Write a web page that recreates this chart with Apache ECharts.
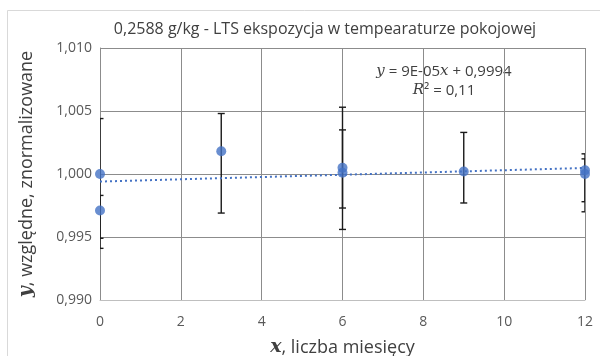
<!DOCTYPE html>
<html>
<head>
<meta charset="utf-8">
<script src="https://cdn.jsdelivr.net/npm/echarts@6/dist/echarts.min.js"></script>
<style>
  html, body { margin: 0; padding: 0; background: #fff; }
  #chart { width: 600px; height: 356px; }
</style>
</head>
<body>
<div id="chart"></div>
<script>
// pomiary: miesiąc, wartość względna, dolny i górny koniec słupka błędu
const months = [0, 0, 3, 6, 6, 9, 12, 12]
const values = [1.0000, 0.9971, 1.0018, 1.0005, 1.0001, 1.0002, 1.0003, 1.0000]
const errLow = [0.9949, 0.9941, 0.9969, 0.9956, 0.9973, 0.9977, 0.9970, 0.9978]
const errHigh = [1.0044, 0.9983, 1.0048, 1.0053, 1.0035, 1.0033, 1.0016, 1.0012]

// linia trendu (końce)
const trendX = [0, 12]
const trendY = [0.9994, 1.00048]

const titleText = '0,2588 g/kg - LTS ekspozycja w tempearaturze pokojowej'
const fontSans = "'Open Sans', 'Noto Sans', sans-serif"
const fontSerif = "'DejaVu Serif', 'Liberation Serif', serif"

const chart = echarts.init(document.getElementById('chart'), null, { renderer: 'canvas' })

const scatterData = months.map((m, i) => [m, values[i]])
const errData = months.map((m, i) => [m, errLow[i], errHigh[i]])

chart.setOption({
  animation: false,
  backgroundColor: '#fff',
  title: {
    text: titleText,
    left: 320,
    top: 16,
    textAlign: 'center',
    textStyle: { fontFamily: fontSans, fontSize: 16, fontWeight: 'normal', color: '#404040' },
  },
  graphic: [
    {
      type: 'rect',
      shape: { x: 7.5, y: 10.5, width: 700, height: 400 },
      style: { fill: 'none', stroke: '#d9d9d9', lineWidth: 1 },
      silent: true,
    },
    {
      type: 'text',
      x: 444,
      y: 81,
      style: {
        text: '{i|y} = 9E-05{i|x} + 0,9994\n{i|R}² = 0,11',
        align: 'center',
        verticalAlign: 'middle',
        fill: '#404040',
        font: '15px ' + fontSans,
        lineHeight: 19,
        rich: {
          i: { fontFamily: fontSerif, fontStyle: 'italic', fontSize: 15, fill: '#404040' },
        },
      },
    },
  ],
  grid: { left: 100, right: 15, top: 48, bottom: 56, outerBoundsMode: 'none', containLabel: false },
  xAxis: {
    type: 'value',
    min: 0,
    max: 12,
    interval: 2,
    name: '{b|x}, liczba miesięcy',
    nameLocation: 'middle',
    nameGap: 38,
    nameTextStyle: {
      fontFamily: fontSans,
      fontSize: 18,
      color: '#404040',
      rich: { b: { fontFamily: fontSerif, fontStyle: 'italic', fontWeight: 'bold', fontSize: 19, color: '#404040' } },
    },
    axisLine: { show: true, lineStyle: { color: '#bfbfbf', width: 1 } },
    axisTick: { show: false },
    axisLabel: { fontFamily: fontSans, fontSize: 14, color: '#595959', margin: 15 },
    splitLine: { show: true, lineStyle: { color: '#8c8c8c', width: 1 } },
  },
  yAxis: {
    type: 'value',
    min: 0.99,
    max: 1.01,
    interval: 0.005,
    name: '{b|y}, względne, znormalizowane',
    nameLocation: 'middle',
    nameRotate: 90,
    nameGap: 64,
    nameTextStyle: {
      fontFamily: fontSans,
      fontSize: 18,
      color: '#404040',
      rich: { b: { fontFamily: fontSerif, fontStyle: 'italic', fontWeight: 'bold', fontSize: 19, color: '#404040' } },
    },
    axisLine: { show: true, lineStyle: { color: '#8c8c8c', width: 1 } },
    axisTick: { show: false },
    axisLabel: {
      fontFamily: fontSans,
      fontSize: 14,
      color: '#595959',
      margin: 8,
      formatter: (v) => v.toFixed(3).replace('.', ','),
    },
    splitLine: { show: true, lineStyle: { color: '#8c8c8c', width: 1 } },
  },
  series: [
    {
      type: 'custom',
      name: 'błąd',
      data: errData,
      clip: true,
      z: 2,
      renderItem: (params, api) => {
        const x = api.value(0)
        const lo = api.coord([x, api.value(1)])
        const hi = api.coord([x, api.value(2)])
        const half = 3.5
        const style = { stroke: '#1a1a1a', lineWidth: 1.4 }
        return {
          type: 'group',
          children: [
            { type: 'line', shape: { x1: lo[0], y1: lo[1], x2: hi[0], y2: hi[1] }, style },
            { type: 'line', shape: { x1: lo[0] - half, y1: lo[1], x2: lo[0] + half, y2: lo[1] }, style },
            { type: 'line', shape: { x1: hi[0] - half, y1: hi[1], x2: hi[0] + half, y2: hi[1] }, style },
          ],
        }
      },
    },
    {
      type: 'line',
      name: 'trend',
      data: trendX.map((x, i) => [x, trendY[i]]),
      showSymbol: false,
      symbol: 'none',
      z: 3,
      lineStyle: { color: '#4472c4', width: 2, type: [2, 3] },
    },
    {
      type: 'scatter',
      name: 'pomiary',
      data: scatterData,
      symbol: 'circle',
      symbolSize: 10,
      z: 4,
      itemStyle: { color: '#4472c4' },
    },
  ],
})
</script>
</body>
</html>
